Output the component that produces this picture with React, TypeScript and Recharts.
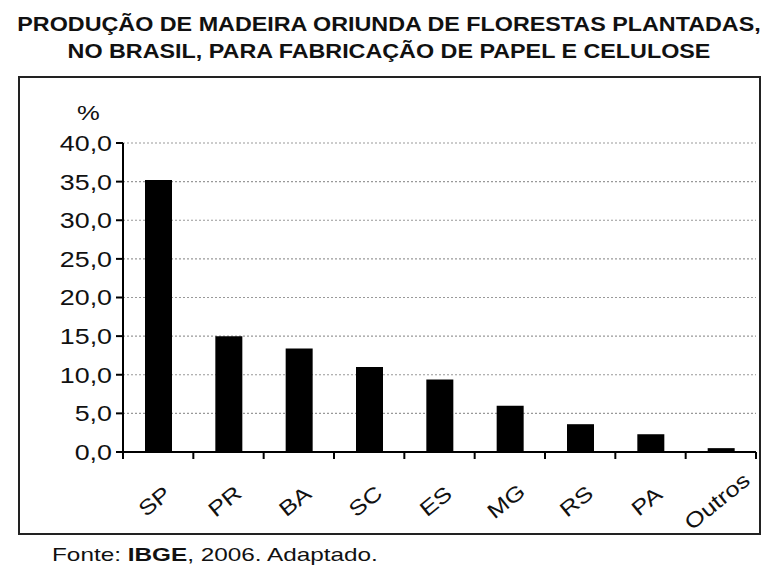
import { BarChart, Bar, XAxis, YAxis, CartesianGrid } from "recharts";

const states = ["SP", "PR", "BA", "SC", "ES", "MG", "RS", "PA", "Outros"];
const shares = [35.2, 15.0, 13.4, 11.0, 9.4, 6.0, 3.6, 2.3, 0.5];
const yTicks = [0, 5, 10, 15, 20, 25, 30, 35, 40];

const titleLines = [
  "PRODUÇÃO DE MADEIRA ORIUNDA DE FLORESTAS PLANTADAS,",
  "NO BRASIL, PARA FABRICAÇÃO DE PAPEL E CELULOSE",
];

const FONT = "'Liberation Sans', Arial, sans-serif";
const STRETCH = 1.22;

const W = 778;
const H = 583;
const PLOT_LEFT = 123;
const PLOT_RIGHT = 756;
const STEP = (PLOT_RIGHT - PLOT_LEFT) / states.length;

const data = states.map((s, i) => ({ state: s, value: shares[i] }));

const fmt = (v: number) => v.toFixed(1).replace(".", ",");

function YTick(props: any) {
  const { x, y, payload } = props;
  return (
    <g transform={`translate(${x},${y})`}>
      <text
        textAnchor="end"
        dy="0.36em"
        transform={`scale(${STRETCH},1)`}
        fontSize={22}
        fontFamily={FONT}
        fill="#111"
      >
        {fmt(payload.value)}
      </text>
    </g>
  );
}

function XTick(props: any) {
  const { x, y, payload, index } = props;
  return (
    <g>
      {index === 0 && (
        <line x1={x - STEP / 2} x2={x - STEP / 2} y1={y} y2={y + 7} stroke="#000" strokeWidth={2} />
      )}
      <line x1={x + STEP / 2} x2={x + STEP / 2} y1={y} y2={y + 7} stroke="#000" strokeWidth={2} />
      <g transform={`translate(${x - 4},${y + 49}) rotate(-39)`}>
        <text
          textAnchor="middle"
          dy="0.36em"
          transform={`scale(${STRETCH},1)`}
          fontSize={21}
          fontFamily={FONT}
          fill="#111"
        >
          {payload.value}
        </text>
      </g>
    </g>
  );
}

export default function App() {
  return (
    <div
      style={{
        position: "absolute",
        left: 0,
        top: 0,
        width: W,
        height: H,
        background: "#fff",
        fontFamily: FONT,
        color: "#111",
      }}
    >
      {titleLines.map((line, i) => (
        <div
          key={line}
          style={{
            position: "absolute",
            left: 0,
            width: W,
            top: 12 + i * 27,
            textAlign: "center",
            fontWeight: "bold",
            fontSize: 21,
            lineHeight: "24px",
            transform: "scaleX(1.11)",
          }}
        >
          {line}
        </div>
      ))}
      <div
        style={{
          position: "absolute",
          left: 18,
          top: 76,
          width: 761 - 18,
          height: 535 - 76,
          border: "2px solid #222",
          boxSizing: "border-box",
        }}
      />
      <div
        style={{
          position: "absolute",
          left: 79,
          top: 101,
          fontSize: 21,
          lineHeight: "24px",
          transform: `scaleX(${STRETCH})`,
        }}
      >
        %
      </div>
      <div style={{ position: "absolute", left: 0, top: 0 }}>
        <BarChart
          width={W}
          height={H}
          data={data}
          margin={{ top: 143, right: W - PLOT_RIGHT, bottom: 0, left: 0 }}
        >
          <CartesianGrid
            vertical={false}
            stroke="#999"
            strokeDasharray="2 2"
            strokeWidth={1.2}
          />
          <XAxis
            dataKey="state"
            height={131}
            axisLine={{ stroke: "#000", strokeWidth: 2 }}
            tickLine={false}
            tickSize={0}
            tickMargin={0}
            tick={<XTick />}
            interval={0}
          />
          <YAxis
            width={PLOT_LEFT}
            domain={[0, 40]}
            ticks={yTicks}
            interval={0}
            axisLine={{ stroke: "#000", strokeWidth: 2 }}
            tickLine={{ stroke: "#000", strokeWidth: 2 }}
            tickSize={7}
            tickMargin={4}
            tick={<YTick />}
          />
          <Bar dataKey="value" fill="#000" barSize={27} isAnimationActive={false} />
        </BarChart>
      </div>
      <div
        style={{
          position: "absolute",
          left: 52,
          top: 544,
          fontSize: 19,
          lineHeight: "22px",
          transform: "scaleX(1.28)",
          transformOrigin: "left center",
          whiteSpace: "nowrap",
        }}
      >
        Fonte: <b>IBGE</b>, 2006. Adaptado.
      </div>
    </div>
  );
}
